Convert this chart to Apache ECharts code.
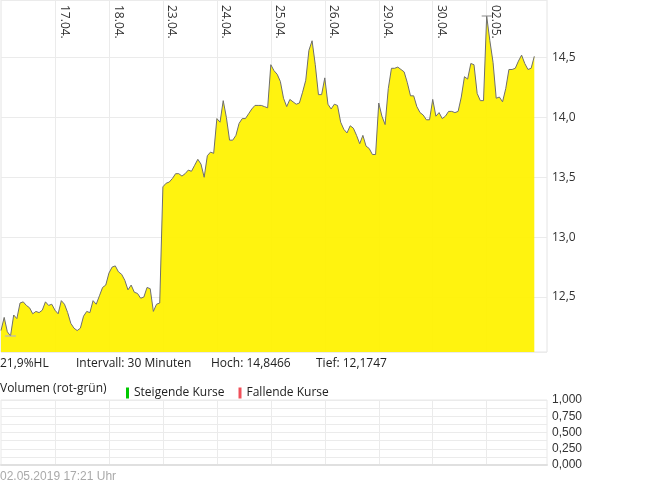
<!DOCTYPE html>
<html>
<head>
<meta charset="utf-8">
<script src="https://cdn.jsdelivr.net/npm/echarts@6/dist/echarts.min.js"></script>
<style>
  html, body { margin: 0; padding: 0; background: #fff; }
  #chart { width: 645px; height: 483px; }
</style>
</head>
<body>
<div id="chart"></div>
<script>
// 30-Minuten-Kurse, 16.04. bis 02.05.2019 17:21
var price = [
  12.22, 12.33, 12.21, 12.1747, 12.35, 12.32, 12.45, 12.46, 12.43, 12.41, 12.36, 12.38, 12.37, 12.39, 12.46, 12.43, 12.44,
  12.39, 12.36, 12.47, 12.44, 12.37, 12.28, 12.24, 12.22, 12.24, 12.34, 12.38, 12.37, 12.47, 12.44, 12.51, 12.58, 12.60,
  12.70, 12.75, 12.76, 12.71, 12.69, 12.64, 12.56, 12.60, 12.54, 12.53, 12.49, 12.50, 12.58, 12.57, 12.38, 12.44, 12.45,
  13.42, 13.45, 13.46, 13.49, 13.53, 13.53, 13.51, 13.53, 13.56, 13.55, 13.60, 13.65, 13.61, 13.50, 13.68, 13.71, 13.70,
  13.99, 13.96, 14.14, 14.00, 13.81, 13.81, 13.85, 13.95, 13.99, 13.99, 14.03, 14.07, 14.10, 14.10, 14.10, 14.09, 14.08,
  14.44, 14.39, 14.36, 14.30, 14.16, 14.09, 14.15, 14.13, 14.11, 14.12, 14.21, 14.31, 14.56, 14.64, 14.44, 14.19, 14.19,
  14.33, 14.11, 14.07, 14.11, 14.10, 13.96, 13.90, 13.87, 13.93, 13.91, 13.85, 13.78, 13.85, 13.76, 13.74, 13.69, 13.69,
  14.12, 14.01, 13.94, 14.24, 14.41, 14.41, 14.42, 14.40, 14.38, 14.29, 14.18, 14.18, 14.09, 14.04, 14.02, 13.98, 13.98,
  14.15, 14.01, 14.04, 13.99, 14.01, 14.05, 14.05, 14.04, 14.05, 14.17, 14.34, 14.32, 14.45, 14.44, 14.20, 14.14, 14.14,
  14.8466, 14.64, 14.46, 14.16, 14.17, 14.13, 14.24, 14.40, 14.40, 14.41, 14.47, 14.52, 14.45, 14.40, 14.41, 14.51
];
var volume = [];
var steigend = [];
var fallend = [];

var dayLabels = ['17.04.', '18.04.', '23.04.', '24.04.', '25.04.', '26.04.', '29.04.', '30.04.', '02.05.'];
var dayStarts = [17, 34, 51, 68, 85, 102, 119, 136, 153];
var slotCount = 173;   // Handelstage a 17 Intervalle, rechts etwas Luft
var stamp = '02.05.2019 17:21 Uhr';

var slots = [];
for (var i = 0; i < slotCount; i++) slots.push(i);

var hoch = Math.max.apply(null, price);
var tief = Math.min.apply(null, price);
var pad = (hoch - tief) * 0.05;
var hl = ((hoch - tief) / tief * 100).toFixed(1).replace('.', ',');

function isDay(idx) { return dayStarts.indexOf(idx) >= 0; }
function comma(v, d) { return v.toFixed(d).replace('.', ','); }

var font = '"Open Sans", "Noto Sans", sans-serif';
var gridCol = '#ebebeb';

var myChart = echarts.init(document.getElementById('chart'));
var options = {
    animation: false,
    textStyle: { fontFamily: font },
    grid: [
        { left: 1, right: 98, top: 0, height: 352, show: true, borderColor: '#e4e4e4', borderWidth: 1,
          containLabel: false, outerBoundsMode: 'none' },
        { left: 1, right: 98, top: 400, height: 65, show: true, borderColor: '#e8e8e8', borderWidth: 1,
          containLabel: false, outerBoundsMode: 'none' }
    ],
    legend: {
        left: 121, top: 382,
        icon: 'rect', itemWidth: 3, itemHeight: 11, itemGap: 14,
        textStyle: { fontSize: 12, color: '#222', fontFamily: font },
        data: ['Steigende Kurse', 'Fallende Kurse']
    },
    xAxis: [{
        type: 'category', gridIndex: 0, position: 'top', data: slots, boundaryGap: false,
        axisLine: { show: false }, axisTick: { show: false },
        axisLabel: {
            inside: true, rotate: 90, margin: 5, interval: isDay,
            align: 'left', verticalAlign: 'bottom', padding: [0, 0, 3, 0],
            fontSize: 12, color: '#333', fontFamily: font,
            formatter: function(v, idx) { return dayLabels[dayStarts.indexOf(idx)]; }
        },
        splitLine: { show: true, interval: isDay, lineStyle: { color: gridCol } }
    }, {
        type: 'category', gridIndex: 1, data: slots, boundaryGap: false,
        axisLine: { show: true, lineStyle: { color: '#e0e0e0', width: 2 } },
        axisTick: { show: false }, axisLabel: { show: false },
        splitLine: { show: true, interval: isDay, lineStyle: { color: gridCol } }
    }],
    yAxis: [{
        type: 'value', gridIndex: 0, position: 'right',
        min: tief - pad, max: hoch + pad,
        axisLine: { show: false }, axisTick: { show: false },
        axisLabel: {
            margin: 5, fontSize: 12, color: '#333', fontFamily: font,
            showMinLabel: false, showMaxLabel: false,
            formatter: function(v) { return comma(v, 1); }
        },
        splitLine: { lineStyle: { color: gridCol } }
    }, {
        type: 'value', gridIndex: 1, position: 'right', min: 0, max: 1, interval: 0.25,
        axisLine: { show: false }, axisTick: { show: false },
        axisLabel: {
            margin: 5, fontSize: 12, color: '#333', fontFamily: '"Liberation Sans", Arial, sans-serif',
            formatter: function(v) { return comma(v, 3); }
        },
        splitLine: { lineStyle: { color: gridCol } },
        minorTick: { show: false, splitNumber: 2 },
        minorSplitLine: { show: true, lineStyle: { color: gridCol } }
    }],
    series: [{
        name: 'Kurs', type: 'line', xAxisIndex: 0, yAxisIndex: 0,
        data: price, symbol: 'none',
        lineStyle: { color: '#6e6e6e', width: 1 },
        areaStyle: { color: '#fff200', opacity: 0.94 },
        markPoint: {
            silent: true, label: { show: false },
            data: [
                { type: 'max', symbol: 'rect', symbolSize: [10, 1], itemStyle: { color: '#888' } },
                { type: 'min', symbol: 'rect', symbolSize: [11, 1], itemStyle: { color: '#a8a8e0' } }
            ]
        }
    }, {
        name: 'Volumen', type: 'bar', xAxisIndex: 1, yAxisIndex: 1, data: volume
    }, {
        name: 'Steigende Kurse', type: 'bar', xAxisIndex: 1, yAxisIndex: 1, data: steigend,
        itemStyle: { color: '#00c800' }
    }, {
        name: 'Fallende Kurse', type: 'bar', xAxisIndex: 1, yAxisIndex: 1, data: fallend,
        itemStyle: { color: '#f0505a' }
    }],
    graphic: [
        { type: 'text', x: 0, y: 364, style: { text: hl + '%HL', fill: '#222', font: '12px ' + font, verticalAlign: 'middle' } },
        { type: 'text', x: 76, y: 364, style: { text: 'Intervall: 30 Minuten', fill: '#222', font: '12px ' + font, verticalAlign: 'middle' } },
        { type: 'text', x: 211, y: 364, style: { text: 'Hoch: ' + comma(hoch, 4), fill: '#222', font: '12px ' + font, verticalAlign: 'middle' } },
        { type: 'text', x: 316, y: 364, style: { text: 'Tief: ' + comma(tief, 4), fill: '#222', font: '12px ' + font, verticalAlign: 'middle' } },
        { type: 'text', x: 0, y: 389, style: { text: 'Volumen (rot-grün)', fill: '#222', font: '12px ' + font, verticalAlign: 'middle' } },
        { type: 'text', x: 0, y: 477, style: { text: stamp, fill: '#aaa', font: '12px "Liberation Sans", Arial, sans-serif', verticalAlign: 'middle' } }
    ]
};
myChart.setOption(options);
</script>
</body>
</html>
